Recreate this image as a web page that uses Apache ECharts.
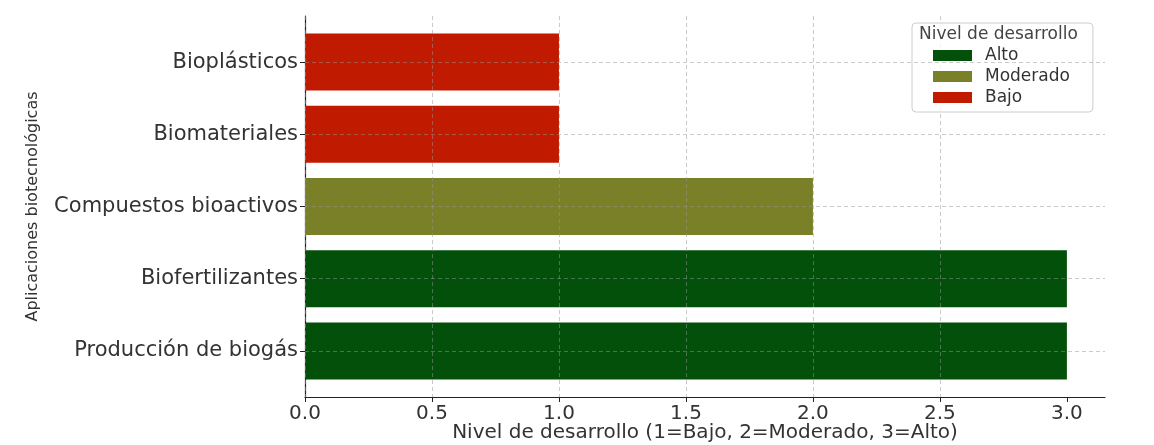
<!DOCTYPE html>
<html><head><meta charset="utf-8">
<script src="https://cdn.jsdelivr.net/npm/echarts@6/dist/echarts.min.js"></script>
<style>html,body{margin:0;padding:0;background:#fff}#c{width:1154px;height:445px}</style>
</head><body><div id="c"></div>
<script>
const categories = ['Bioplásticos','Biomateriales','Compuestos bioactivos','Biofertilizantes','Producción de biogás'];
const values = [1, 1, 2, 3, 3];
const levelNames = ['Alto', 'Moderado', 'Bajo'];
const levelValues = [3, 2, 1];
const levelColors = ['#02500a', '#7a8028', '#c01a00'];
const xTicks = [0, 0.5, 1, 1.5, 2, 2.5, 3];
const xName = 'Nivel de desarrollo (1=Bajo, 2=Moderado, 3=Alto)';
const yName = 'Aplicaciones biotecnológicas';
const legendTitle = 'Nivel de desarrollo';

const FF = 'DejaVu Sans';
const gridCol = 'rgba(150,150,150,0.5)';
const chart = echarts.init(document.getElementById('c'), null, {renderer: 'canvas'});

const series = levelNames.map((n, i) => ({
  type: 'bar', name: n, xAxisIndex: 1, yAxisIndex: 1, stack: 's', barWidth: '79%',
  itemStyle: {color: levelColors[i]},
  data: values.map(v => v === levelValues[i] ? v : null)
}));
series[0].markLine = {
  silent: true, symbol: 'none', label: {show: false},
  lineStyle: {type: [4, 3], color: gridCol, width: 1},
  data: categories.map(c => ({yAxis: c}))
};

chart.setOption({
  animation: false,
  textStyle: {fontFamily: FF},
  title: {text: legendTitle, left: 919, top: 26, padding: 0, z: 10,
    textStyle: {fontSize: 17, fontWeight: 'normal', color: '#444', fontFamily: FF}},
  legend: {
    orient: 'vertical', left: 912, top: 23, data: levelNames, icon: 'rect',
    itemWidth: 39, itemHeight: 11, itemGap: 4, padding: [24, 23, 6, 21],
    backgroundColor: 'rgba(255,255,255,0.8)', borderColor: '#ccc', borderWidth: 1, borderRadius: 4,
    textStyle: {fontSize: 17, color: '#333', fontFamily: FF, padding: [0, 0, 0, 8]}
  },
  grid: [
    {left: 305, right: 49, top: 16, bottom: 48, outerBoundsMode: 'none', containLabel: false},
    {left: 305, right: 49, top: 26, bottom: 58, outerBoundsMode: 'none', containLabel: false}
  ],
  xAxis: [
    {gridIndex: 0, type: 'value', min: 0, max: 3.15, interval: 0.5, z: 3,
     axisLine: {show: true, lineStyle: {color: '#222', width: 1.2}},
     axisTick: {show: true, length: 5, customValues: xTicks, lineStyle: {color: '#222'}},
     axisLabel: {customValues: xTicks, formatter: v => v.toFixed(1), fontSize: 20, color: '#333', margin: 7, fontFamily: FF},
     splitLine: {show: true, showMaxLine: false, lineStyle: {type: [4, 3], color: gridCol, width: 1}},
     name: xName, nameLocation: 'middle', nameGap: 26, nameMoveOverlap: false,
     nameTextStyle: {fontSize: 20, color: '#333', fontFamily: FF}},
    {gridIndex: 1, type: 'value', min: 0, max: 3.15, show: false}
  ],
  yAxis: [
    {gridIndex: 0, type: 'value', min: 0, max: 1,
     axisLine: {show: true, lineStyle: {color: '#222', width: 1.2}},
     axisTick: {show: false}, axisLabel: {show: false}, splitLine: {show: false},
     name: yName, nameLocation: 'middle', nameGap: 264, nameMoveOverlap: false,
     nameTextStyle: {fontSize: 16, color: '#333', fontFamily: FF}},
    {gridIndex: 1, type: 'category', data: categories, inverse: true,
     axisLine: {show: false},
     axisTick: {show: true, alignWithLabel: true, length: 5, lineStyle: {color: '#222'}},
     axisLabel: {fontSize: 21, color: '#333', margin: 7, fontFamily: FF},
     splitLine: {show: false}}
  ],
  series: series
});
</script></body></html>
